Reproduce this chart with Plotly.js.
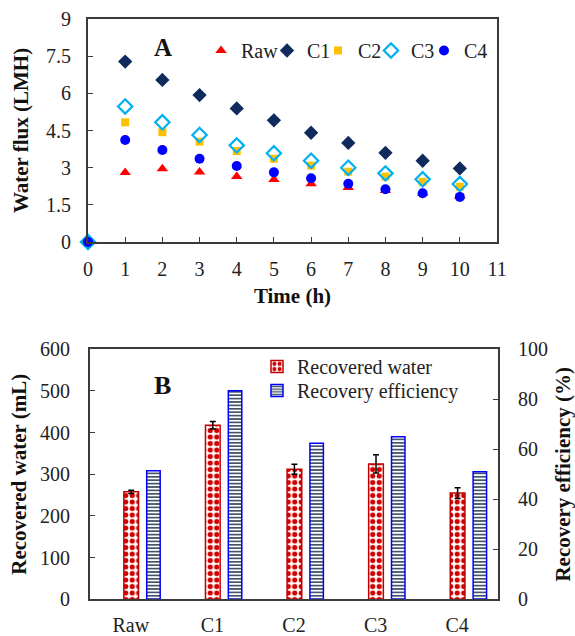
<!DOCTYPE html>
<html>
<head>
<meta charset="utf-8">
<script src="https://cdn.plot.ly/plotly-3.0.1.min.js"></script>
<style>html,body{margin:0;padding:0;background:#fff;}#chart{width:575px;height:636px;}</style>
</head>
<body>
<div id="chart"></div>
<script>
// ---- Panel A data ----
const timeH = [0, 1, 2, 3, 4, 5, 6, 7, 8, 9, 10];
const fluxRaw = [0, 2.80, 2.96, 2.83, 2.64, 2.52, 2.35, 2.20, 2.08, 1.97, 1.85];
const fluxC1  = [0, 7.28, 6.54, 5.93, 5.39, 4.91, 4.41, 4.00, 3.60, 3.28, 2.97];
const fluxC2  = [0, 4.83, 4.43, 4.05, 3.67, 3.36, 3.08, 2.84, 2.64, 2.43, 2.23];
const fluxC3  = [0, 5.47, 4.83, 4.32, 3.90, 3.58, 3.28, 3.00, 2.77, 2.53, 2.34];
const fluxC4  = [0, 4.12, 3.71, 3.36, 3.07, 2.81, 2.57, 2.35, 2.13, 1.97, 1.82];

// ---- Panel B data ----
const samples = ['Raw', 'C1', 'C2', 'C3', 'C4'];
const recoveredWater = [258, 418, 312, 325, 255];
const recoveredWaterErr = [4, 9, 12, 22, 13];
const recoveryEfficiency = [51.4, 83.4, 62.4, 65.0, 51.0];

const FONT = '"Liberation Serif", "Times New Roman", serif';
const AXC = '#3a3a3a';
const W = 575, H = 636;

function fluxTrace(name, y, marker, lg) {
  return {type: 'scatter', mode: 'markers', name: name, x: timeH, y: y,
    xaxis: 'x', yaxis: 'y', marker: marker, cliponaxis: false, legend: lg};
}

const traces = [
  fluxTrace('Raw', fluxRaw, {symbol: 'triangle-up', size: 10, color: '#FF0000'}, 'legend'),
  fluxTrace('C1', fluxC1, {symbol: 'diamond', size: 11, color: '#0f2a5c'}, 'legend2'),
  fluxTrace('C2', fluxC2, {symbol: 'square', size: 8, color: '#FFC000'}, 'legend3'),
  fluxTrace('C3', fluxC3, {symbol: 'diamond-open', size: 11, color: '#00B0F0', line: {width: 2.2, color: '#00B0F0'}}, 'legend4'),
  fluxTrace('C4', fluxC4, {symbol: 'circle', size: 10, color: '#0000FF'}, 'legend5'),
  {type: 'bar', name: 'Recovered water', x: samples, y: recoveredWater,
   xaxis: 'x2', yaxis: 'y2', legend: 'legend6', offset: -0.085, width: 0.18,
   marker: {color: '#ffffff', line: {color: '#C00000', width: 1.5},
     pattern: {shape: '.', fgcolor: '#D00000', bgcolor: '#ffffff', size: 6.5, solidity: 0.5}},
   error_y: {type: 'data', array: recoveredWaterErr, visible: true, color: '#000', thickness: 1.5, width: 3}},
  {type: 'bar', name: 'Recovery efficiency', x: samples, y: recoveryEfficiency,
   xaxis: 'x2', yaxis: 'y3', legend: 'legend7', offset: 0.195, width: 0.165,
   marker: {color: '#ffffff', line: {color: '#0000FF', width: 1.5},
     pattern: {shape: '-', fgcolor: '#44546A', bgcolor: '#ffffff', size: 3.4, solidity: 0.5}}}
];

const tickFont = {family: FONT, size: 20, color: '#222'};
const titleFont = {family: FONT, size: 21, color: '#111', weight: 'bold'};
const legFont = {family: FONT, size: 20, color: '#222'};

function leg(xpx, topPx) {
  return {orientation: 'h', x: xpx / W, xanchor: 'left', y: 1 - topPx / H, yanchor: 'top',
    font: legFont, bgcolor: 'rgba(0,0,0,0)', borderwidth: 0};
}

const layout = {
  width: W, height: H,
  margin: {l: 0, r: 0, t: 0, b: 0},
  paper_bgcolor: '#fff', plot_bgcolor: '#fff',
  font: {family: FONT, size: 20, color: '#222'},
  xaxis: {domain: [88/W, 497/W], anchor: 'y', range: [0, 11], dtick: 1,
    showgrid: false, zeroline: false, showline: true, mirror: true, linecolor: AXC, linewidth: 2,
    ticks: 'inside', ticklen: 5, tickcolor: AXC, tickwidth: 1, tickfont: tickFont, ticklabelstandoff: 8,
    title: {text: 'Time (h)', font: titleFont, standoff: 9}},
  yaxis: {domain: [1 - 242/H, 1 - 19/H], anchor: 'x', range: [0, 9], dtick: 1.5,
    showgrid: false, zeroline: false, showline: true, mirror: true, linecolor: AXC, linewidth: 2,
    ticks: 'inside', ticklen: 5, tickcolor: AXC, tickwidth: 1, tickfont: tickFont, ticklabelstandoff: 11,
    title: {text: 'Water flux (LMH)', font: titleFont, standoff: 12}},
  xaxis2: {domain: [90/W, 498/W], anchor: 'y2', type: 'category', range: [-0.5, 4.5],
    showgrid: false, zeroline: false, showline: true, mirror: true, linecolor: AXC, linewidth: 2,
    ticks: '', tickfont: tickFont, ticklabelstandoff: 7},
  yaxis2: {domain: [1 - 599.3/H, 1 - 349.3/H], anchor: 'x2', range: [0, 600], dtick: 100,
    showgrid: false, zeroline: false, showline: true, mirror: true, linecolor: AXC, linewidth: 2,
    ticks: 'inside', ticklen: 5, tickcolor: AXC, tickwidth: 1, tickfont: tickFont, ticklabelstandoff: 14,
    title: {text: 'Recovered water (mL)', font: titleFont, standoff: 8}},
  yaxis3: {overlaying: 'y2', anchor: 'x2', side: 'right', range: [0, 100], dtick: 20,
    showgrid: false, zeroline: false, showline: true, linecolor: AXC, linewidth: 2,
    ticks: 'inside', ticklen: 5, tickcolor: AXC, tickwidth: 1, tickfont: tickFont, ticklabelstandoff: 14,
    title: {text: 'Recovery efficiency (%)', font: titleFont, standoff: 10}},
  legend: leg(201, 31),
  legend2: leg(267, 31),
  legend3: leg(318, 31),
  legend4: leg(371, 31),
  legend5: leg(424, 31),
  legend6: leg(257, 347),
  legend7: leg(257, 371),
  showlegend: true,
  annotations: [
    {text: '<b>A</b>', xref: 'paper', yref: 'paper', x: 163/W, y: 1 - 47/H, showarrow: false,
     font: {family: FONT, size: 25, color: '#111'}, xanchor: 'center', yanchor: 'middle'},
    {text: '<b>B</b>', xref: 'paper', yref: 'paper', x: 162/W, y: 1 - 385/H, showarrow: false,
     font: {family: FONT, size: 26, color: '#111'}, xanchor: 'center', yanchor: 'middle'}
  ]
};

Plotly.newPlot('chart', traces, layout, {displayModeBar: false, staticPlot: true});
</script>
</body>
</html>
